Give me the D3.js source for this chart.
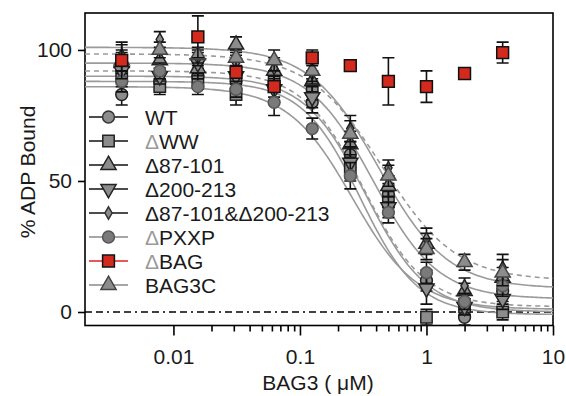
<!DOCTYPE html>
<meta charset="utf-8">
<style>
	body { margin: 0; background: #fff; }
	text { font-family: "Liberation Sans", Arial, sans-serif; fill: #1a1a1a; }
	.axis path, .axis line { stroke: #000; stroke-width: 1.6; }
	.axis text { font-size: 21px; }
	.fit { fill: none; stroke: #9a9a9a; stroke-width: 1.6; }
	.err { stroke: #111; stroke-width: 1.6; fill: none; }
</style>
<body>
<script src="https://cdn.jsdelivr.net/npm/d3@7"></script>
<script>
var width = 566,
    height = 396;

// concentrations (uM)
var conc = [0.0039, 0.0078, 0.0156, 0.03125, 0.0625, 0.125, 0.25, 0.5, 1, 2, 4];

var names = ["WT", "\u0394WW", "\u039487-101", "\u0394200-213", "\u039487-101&\u0394200-213", "\u0394PXXP", "\u0394BAG", "BAG3C"];

// % ADP bound
var wtVals     = [83, 88, 90, 88, 86, 80, 60, 45, 12, -2, 8];
var wwVals     = [90, 86, 88, 83, 88, 85, 55, 42, -2, 2, 0];
var d87Vals    = [95, 96, 93, 102, 92, 88, 64, 48, 26, 8, 13];
var d200Vals   = [92, 90, 95, 90, 85, 82, 57, 40, 9, 2, 5];
var dbothVals  = [98, 104, 97, 95, 93, 91, 70, 55, 28, 10, 17];
var pxxpVals   = [88, 92, 86, 85, 80, 70, 52, 38, 15, 4, 10];
var bagVals    = [96, null, 105, 91.5, 86, 97, 94, 88, 86, 91, 99];
var bag3cVals  = [96, 100, 98, 97, 96, 92, 68, 52, 24, 19, 15];

// error (sd)
var wtErr    = [4, 3, 3, 3, 4, 4, 5, 4, 4, 3, 4];
var wwErr    = [4, 3, 3, 4, 4, 4, 5, 4, 3, 3, 3];
var d87Err   = [4, 3, 4, 3, 4, 4, 5, 4, 4, 3, 4];
var d200Err  = [4, 3, 4, 3, 5, 4, 6, 4, 6, 3, 4];
var dbothErr = [4, 3, 3, 3, 4, 4, 5, 3, 4, 3, 5];
var pxxpErr  = [4, 3, 3, 3, 5, 4, 5, 4, 4, 3, 4];
var bagErr   = [7, 0, 8, 0, 0, 3, 0, 9, 6, 0, 4];
var bag3cErr = [4, 3, 3, 3, 4, 4, 5, 4, 4, 3, 5];

// logistic fit parameters: top, bottom, IC50, hill
var fitTop    = [90, 88, 95, 92, 101, 86, 98.5];
var fitBottom = [0, -1, 5, 2, 9, 1, 12];
var fitIC50   = [0.33, 0.30, 0.38, 0.32, 0.42, 0.26, 0.45];
var fitHill   = [1.8, 1.9, 1.7, 1.8, 1.6, 1.7, 1.5];
var fitDashed = [false, false, false, true, false, false, true];

var xTicks = [0.01, 0.1, 1, 10];
var xMinor = [0.02, 0.03, 0.04, 0.05, 0.06, 0.07, 0.08, 0.09,
              0.2, 0.3, 0.4, 0.5, 0.6, 0.7, 0.8, 0.9,
              2, 3, 4, 5, 6, 7, 8, 9];
var yTicks = [0, 50, 100];

var grayVals = [wtVals, wwVals, d87Vals, d200Vals, dbothVals, pxxpVals, bag3cVals];
var grayErr  = [wtErr, wwErr, d87Err, d200Err, dbothErr, pxxpErr, bag3cErr];
var grayNames = [names[0], names[1], names[2], names[3], names[4], names[5], names[7]];

var symbols = [d3.symbolCircle, d3.symbolSquare, d3.symbolTriangle, "down", d3.symbolDiamond, d3.symbolCircle, d3.symbolSquare, d3.symbolTriangle];
var symSize = [110, 130, 100, 100, 45, 110, 140, 100];

var x = d3.scaleLog().domain([0.002, 10]).range([85, 553]);
var y = d3.scaleLinear().domain([-5.15, 114.1]).range([325.5, 13]);

var svg = d3.select("body").append("svg")
    .attr("width", width)
    .attr("height", height);

function symPath(i) {
  if (symbols[i] === "down") return d3.symbol(d3.symbolTriangle, symSize[i])();
  return d3.symbol(symbols[i], symSize[i])();
}
function symTransform(i, px, py) {
  var t = "translate(" + px + "," + py + ")";
  if (symbols[i] === "down") t += " rotate(180)";
  return t;
}

// frame
svg.append("rect")
    .attr("x", x.range()[0]).attr("y", y.range()[1])
    .attr("width", x.range()[1] - x.range()[0])
    .attr("height", y.range()[0] - y.range()[1])
    .attr("fill", "none").attr("stroke", "#000").attr("stroke-width", 1.6);

// zero line
svg.append("line")
    .attr("x1", x.range()[0]).attr("x2", x.range()[1])
    .attr("y1", y(0)).attr("y2", y(0))
    .attr("stroke", "#000").attr("stroke-width", 1.5)
    .attr("stroke-dasharray", "7,4,7,4,2,4");

// axes
svg.append("g").attr("class", "axis")
    .attr("transform", "translate(0," + y.range()[0] + ")")
    .call(d3.axisBottom(x).tickValues(xMinor).tickSize(6).tickFormat(""))
    .call(function(g) { g.select(".domain").remove(); });

svg.append("g").attr("class", "axis")
    .attr("transform", "translate(0," + y.range()[0] + ")")
    .call(d3.axisBottom(x).tickValues(xTicks).tickSize(10).tickPadding(14)
      .tickFormat(function(d) { return d >= 1 ? d3.format("d")(d) : d3.format("")(d); }))
    .call(function(g) { g.select(".domain").remove(); });

svg.append("g").attr("class", "axis")
    .attr("transform", "translate(" + x.range()[0] + ",0)")
    .call(d3.axisLeft(y).tickValues(yTicks).tickSize(7).tickPadding(6))
    .call(function(g) { g.select(".domain").remove(); });

svg.append("text")
    .attr("transform", "translate(35," + 172 + ") rotate(-90)")
    .attr("text-anchor", "middle")
    .style("font-size", "21px")
    .text("% ADP Bound");

svg.append("text")
    .attr("x", 318).attr("y", 390)
    .attr("text-anchor", "middle")
    .style("font-size", "21px")
    .text("BAG3 ( \u03bcM)");

// fit curves
var xs = d3.range(0, 201).map(function(i) { return 0.002 * Math.pow(5000, i / 200); });
var line = d3.line().x(function(d) { return x(d[0]); }).y(function(d) { return y(d[1]); });
fitTop.forEach(function(top, i) {
  var pts = xs.map(function(c) {
    return [c, fitBottom[i] + (top - fitBottom[i]) / (1 + Math.pow(c / fitIC50[i], fitHill[i]))];
  });
  svg.append("path")
      .attr("class", "fit")
      .attr("d", line(pts))
      .attr("stroke-dasharray", fitDashed[i] ? "5,4" : null)
      .attr("stroke", fitDashed[i] ? "#b0b0b0" : "#9a9a9a");
});

function drawSeries(vals, errs, idx, fill, stroke) {
  var g = svg.append("g");
  var pts = conc.map(function(c, j) { return {c: c, v: vals[j], e: errs[j]}; })
      .filter(function(d) { return d.v != null; });
  pts.forEach(function(d) {
    if (!d.e) return;
    var px = x(d.c), y0 = y(d.v - d.e), y1 = y(d.v + d.e);
    g.append("path").attr("class", "err")
      .attr("d", "M" + px + "," + y0 + "V" + y1 +
        "M" + (px - 6) + "," + y0 + "H" + (px + 6) +
        "M" + (px - 6) + "," + y1 + "H" + (px + 6));
  });
  g.selectAll(".pt").data(pts).enter().append("path")
      .attr("d", symPath(idx))
      .attr("transform", function(d) { return symTransform(idx, x(d.c), y(d.v)); })
      .attr("fill", fill).attr("stroke", stroke).attr("stroke-width", 1.5);
}

var grayIdx = [0, 1, 2, 3, 4, 5, 7];
var grayFill = ["#8c8c8c", "#8c8c8c", "#8c8c8c", "#8c8c8c", "#8c8c8c", "#7a7a7a", "#8c8c8c"];
var grayStroke = ["#222", "#222", "#222", "#222", "#222", "#555", "#444"];
grayVals.forEach(function(v, k) {
  drawSeries(v, grayErr[k], grayIdx[k], grayFill[k], grayStroke[k]);
});
drawSeries(bagVals, bagErr, 6, "#d42a1e", "#111");

// legend
var legLine = ["#111", "#111", "#111", "#111", "#111", "#8a8a8a", "#e02020", "#8a8a8a"];
var legFill = ["#8c8c8c", "#8c8c8c", "#8c8c8c", "#8c8c8c", "#8c8c8c", "#7a7a7a", "#d42a1e", "#8c8c8c"];
var legStroke = ["#333", "#222", "#222", "#222", "#333", "#555", "#111", "#444"];
var leg = svg.append("g");
names.forEach(function(n, i) {
  var cy = 117 + i * 24;
  leg.append("line")
      .attr("x1", 89).attr("x2", 128).attr("y1", cy).attr("y2", cy)
      .attr("stroke", legLine[i]).attr("stroke-width", 1.6);
  leg.append("path")
      .attr("d", symPath(i))
      .attr("transform", symTransform(i, 108.5, cy))
      .attr("fill", legFill[i]).attr("stroke", legStroke[i]).attr("stroke-width", 1.5);
  var t = leg.append("text")
      .attr("x", 145).attr("y", cy + 7.5)
      .style("font-size", "21px");
  if (i === 1 || i === 5 || i === 6) {
    t.append("tspan").style("fill", "#9a9a9a").text(n.charAt(0));
    t.append("tspan").text(n.slice(1));
  } else {
    t.text(n);
  }
});
</script>
